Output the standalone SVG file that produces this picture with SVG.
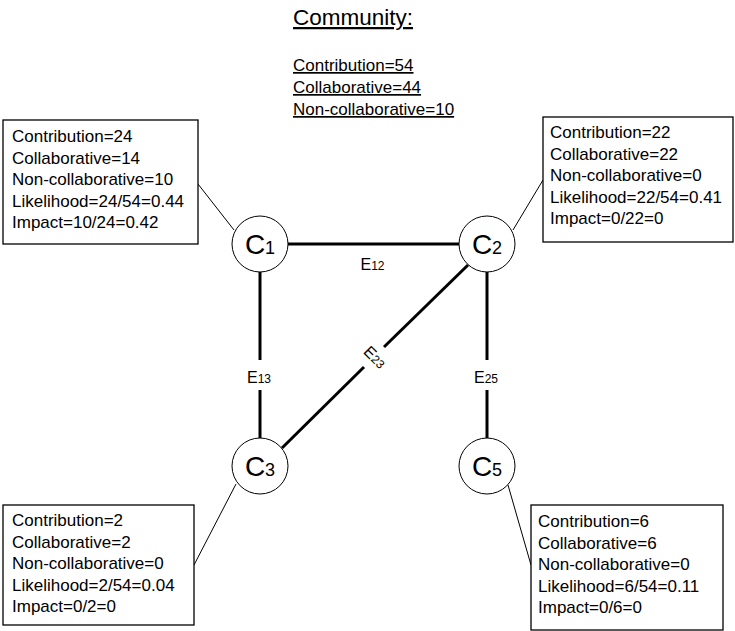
<svg xmlns="http://www.w3.org/2000/svg" width="735" height="631" viewBox="0 0 735 631">
<style>
text{font-family:"Liberation Sans",Arial,sans-serif;fill:#000}
.t{font-size:17px}
.title{font-size:22.5px;text-decoration:underline}
.u{text-decoration:underline}
.box{fill:#fff;stroke:#000;stroke-width:1.3}
.node{fill:#fff;stroke:#000;stroke-width:1}
.lbl{font-size:28px;text-anchor:middle}
.sub{font-size:18px}
.edge{stroke:#000;stroke-width:3;fill:none}
.lead{stroke:#000;stroke-width:1;fill:none}
.el{font-size:16px;text-anchor:middle}
.es{font-size:12px}
</style>
<rect width="735" height="631" fill="#fff"/>
<g id="community">
<text class="title" x="293" y="25">Community:</text>
<text class="t u" x="293" y="71">Contribution=54</text>
<text class="t u" x="293" y="93">Collaborative=44</text>
<text class="t u" x="293" y="115">Non-collaborative=10</text>
</g>
<g id="connectors">
<line class="edge" x1="288" y1="244" x2="459" y2="244"/>
<line class="edge" x1="260" y1="272" x2="260" y2="360"/>
<line class="edge" x1="260" y1="390" x2="260" y2="438"/>
<line class="edge" x1="487" y1="272" x2="487" y2="360"/>
<line class="edge" x1="487" y1="390" x2="487" y2="438"/>
<line class="edge" x1="468" y1="265" x2="384" y2="347"/>
<line class="edge" x1="364" y1="367" x2="282" y2="448"/>
<line class="lead" x1="198" y1="184" x2="234" y2="230"/>
<line class="lead" x1="543" y1="180" x2="513" y2="230"/>
<line class="lead" x1="194" y1="565" x2="236" y2="484"/>
<line class="lead" x1="531" y1="565" x2="508" y2="485"/>
<text class="el" x="372.5" y="270">E<tspan class="es">12</tspan></text>
<text class="el" x="259" y="383">E<tspan class="es">13</tspan></text>
<text class="el" x="486" y="383">E<tspan class="es">25</tspan></text>
<text class="el" transform="translate(375 357) rotate(45)" x="0" y="5.5">E<tspan class="es">23</tspan></text>
</g>
<g id="C1">
<circle class="node" cx="260" cy="244" r="28"/>
<text class="lbl" x="260" y="254">C<tspan class="sub">1</tspan></text>
</g>
<g id="C2">
<circle class="node" cx="487" cy="244" r="28"/>
<text class="lbl" x="487" y="254">C<tspan class="sub">2</tspan></text>
</g>
<g id="C3">
<circle class="node" cx="260" cy="466" r="28"/>
<text class="lbl" x="260" y="476">C<tspan class="sub">3</tspan></text>
</g>
<g id="C5">
<circle class="node" cx="487" cy="466" r="28"/>
<text class="lbl" x="487" y="476">C<tspan class="sub">5</tspan></text>
</g>
<g id="box-C1">
<rect class="box" x="3" y="120" width="195" height="124"/>
<text class="t" x="12" y="142">Contribution=24</text>
<text class="t" x="12" y="163.5">Collaborative=14</text>
<text class="t" x="12" y="185">Non-collaborative=10</text>
<text class="t" x="12" y="206.5">Likelihood=24/54=0.44</text>
<text class="t" x="12" y="228">Impact=10/24=0.42</text>
</g>
<g id="box-C2">
<rect class="box" x="543" y="117" width="190" height="125"/>
<text class="t" x="550" y="138">Contribution=22</text>
<text class="t" x="550" y="159.5">Collaborative=22</text>
<text class="t" x="550" y="181">Non-collaborative=0</text>
<text class="t" x="550" y="202.5">Likelihood=22/54=0.41</text>
<text class="t" x="550" y="224">Impact=0/22=0</text>
</g>
<g id="box-C3">
<rect class="box" x="3" y="505" width="191" height="120"/>
<text class="t" x="12" y="526">Contribution=2</text>
<text class="t" x="12" y="547.5">Collaborative=2</text>
<text class="t" x="12" y="569">Non-collaborative=0</text>
<text class="t" x="12" y="590.5">Likelihood=2/54=0.04</text>
<text class="t" x="12" y="612">Impact=0/2=0</text>
</g>
<g id="box-C5">
<rect class="box" x="531" y="505" width="192" height="125"/>
<text class="t" x="538" y="527">Contribution=6</text>
<text class="t" x="538" y="548.5">Collaborative=6</text>
<text class="t" x="538" y="570">Non-collaborative=0</text>
<text class="t" x="538" y="591.5">Likelihood=6/54=0.11</text>
<text class="t" x="538" y="613">Impact=0/6=0</text>
</g>
</svg>
